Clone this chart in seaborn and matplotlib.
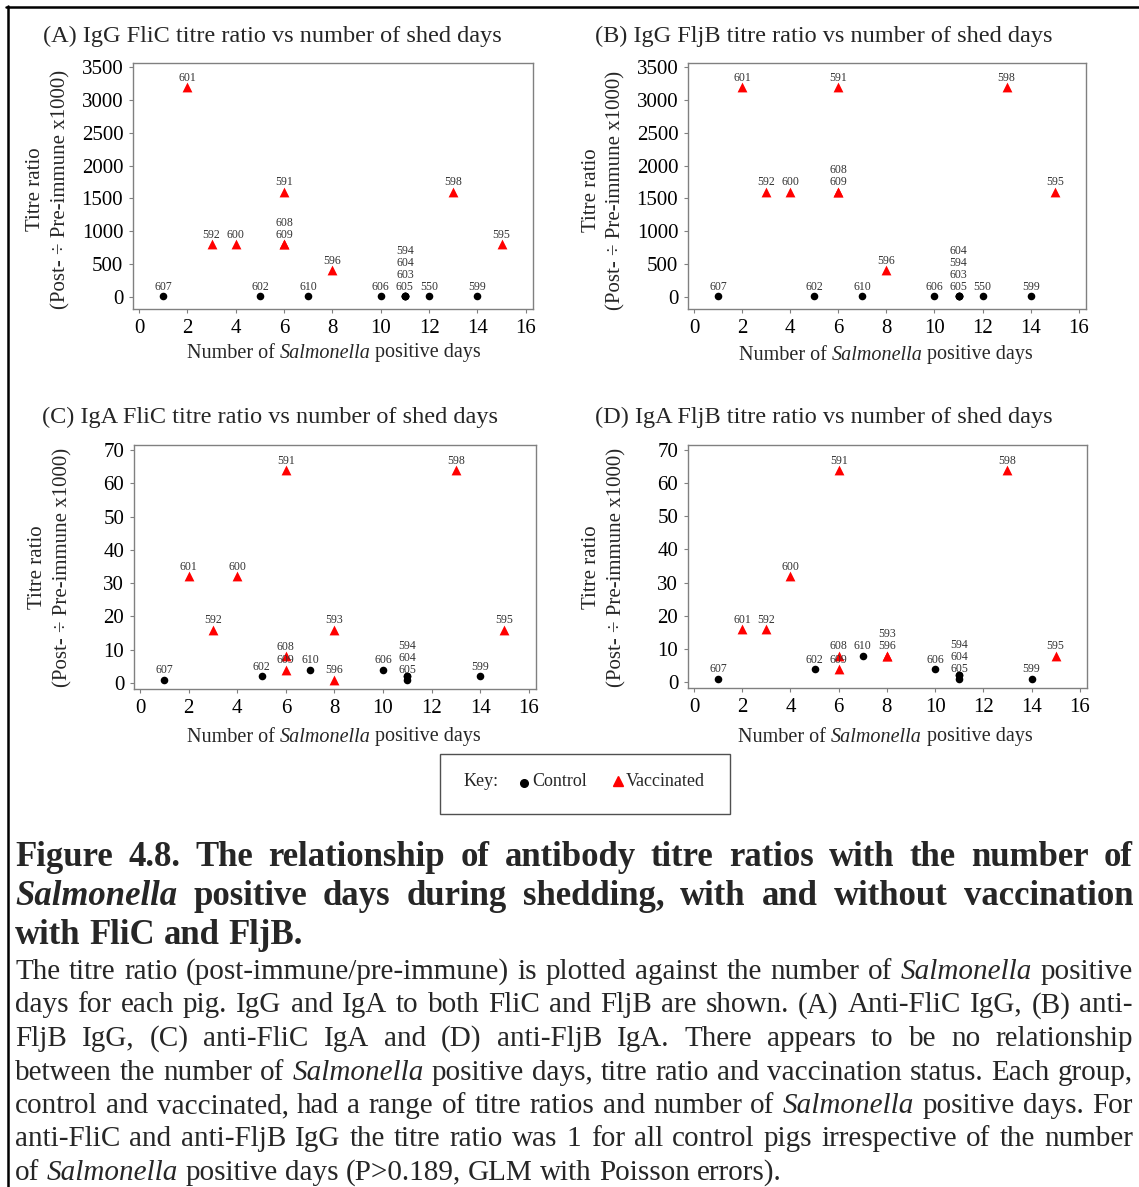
import numpy as np
import pandas as pd
import matplotlib
matplotlib.use("Agg")
import matplotlib.pyplot as plt
import seaborn as sns
from matplotlib.transforms import IdentityTransform
from matplotlib.lines import Line2D
from matplotlib.patches import Rectangle

# ---------------- data ----------------
x_ticks = [0, 2, 4, 6, 8, 10, 12, 14, 16]
igg_yticks = [0, 500, 1000, 1500, 2000, 2500, 3000, 3500]
iga_yticks = [0, 10, 20, 30, 40, 50, 60, 70]

panel_titles = [
    "(A) IgG FliC titre ratio vs number of shed days",
    "(B) IgG FljB titre ratio vs number of shed days",
    "(C) IgA FliC titre ratio vs number of shed days",
    "(D) IgA FljB titre ratio vs number of shed days",
]

# (A) IgG FliC
A_pig = ["607", "601", "592", "600", "602", "591", "608", "609", "610", "596",
         "606", "594", "604", "603", "605", "550", "598", "599", "595"]
A_group = ["Control", "Vaccinated", "Vaccinated", "Vaccinated", "Control", "Vaccinated",
           "Vaccinated", "Vaccinated", "Control", "Vaccinated", "Control", "Control",
           "Control", "Control", "Control", "Control", "Vaccinated", "Control", "Vaccinated"]
A_days = [1, 2, 3, 4, 5, 6, 6, 6, 7, 8, 10, 11, 11, 11, 11, 12, 13, 14, 15]
A_ratio = [1, 3200, 800, 800, 1, 1600, 800, 800, 1, 400, 1, 1, 1, 1, 1, 1, 1600, 1, 800]

# (B) IgG FljB
B_pig = ["607", "601", "592", "600", "602", "591", "608", "609", "610", "596",
         "606", "604", "594", "603", "605", "550", "598", "599", "595"]
B_group = A_group
B_days = [1, 2, 3, 4, 5, 6, 6, 6, 7, 8, 10, 11, 11, 11, 11, 12, 13, 14, 15]
B_ratio = [1, 3200, 1600, 1600, 1, 3200, 1600, 1600, 1, 400, 1, 1, 1, 1, 1, 1, 3200, 1, 1600]

# (C) IgA FliC
C_pig = ["607", "601", "592", "600", "602", "591", "608", "609", "610", "593", "596",
         "606", "594", "604", "605", "598", "599", "595"]
C_group = ["Control", "Vaccinated", "Vaccinated", "Vaccinated", "Control", "Vaccinated",
           "Vaccinated", "Vaccinated", "Control", "Vaccinated", "Vaccinated", "Control",
           "Control", "Control", "Control", "Vaccinated", "Control", "Vaccinated"]
C_days = [1, 2, 3, 4, 5, 6, 6, 6, 7, 8, 8, 10, 11, 11, 11, 13, 14, 15]
C_ratio = [1, 32, 16, 32, 2, 64, 8, 4, 4, 16, 1, 4, 2, 2, 1, 64, 2, 16]

# (D) IgA FljB
D_pig = C_pig
D_group = C_group
D_days = [1, 2, 3, 4, 5, 6, 6, 6, 7, 8, 8, 10, 11, 11, 11, 13, 14, 15]
D_ratio = [1, 16, 16, 32, 4, 64, 8, 4, 8, 8, 8, 4, 2, 2, 1, 64, 1, 8]

x_label_parts = ("Number of ", "Salmonella", " positive days")
y_label_lines = ("Titre ratio", "(Post- \u00f7 Pre-immune x1000)")
key_labels = ("Key:", "Control", "Vaccinated")

heading_lines = [
    "Figure 4.8. The relationship of antibody titre ratios with the number of",
    "*Salmonella* positive days during shedding, with and without vaccination",
    "with FliC and FljB.",
]
body_lines = [
    "The titre ratio (post-immune/pre-immune) is plotted against the number of *Salmonella* positive",
    "days for each pig. IgG and IgA to both FliC and FljB are shown. (A) Anti-FliC IgG, (B) anti-",
    "FljB IgG, (C) anti-FliC IgA and (D) anti-FljB IgA. There appears to be no relationship",
    "between the number of *Salmonella* positive days, titre ratio and vaccination status. Each group,",
    "control and vaccinated, had a range of titre ratios and number of *Salmonella* positive days. For",
    "anti-FliC and anti-FljB IgG the titre ratio was 1 for all control pigs irrespective of the number",
    "of *Salmonella* positive days (P>0.189, GLM with Poisson errors).",
]

# ---------------- style ----------------
W, H = 1139, 1187
SERIF = "Liberation Serif"
SPINE = "#808080"
sns.set_style("white")
plt.rcParams["font.family"] = [SERIF, "DejaVu Serif"]

fig = plt.figure(figsize=(W / 100, H / 100), dpi=100)
fig.patch.set_facecolor("white")
ID = IdentityTransform()
renderer = fig.canvas.get_renderer()


def ftext(x, y_top, s, **kw):
    return fig.text(x, H - y_top, s, transform=ID, **kw)


def panel(rect, pig, group, days, ratio, yticks, ylim, title, title_pos, xlab_pos, ylab_pos):
    l, t, r, b = rect
    ax = fig.add_axes([l / W, 1 - b / H, (r - l) / W, (b - t) / H])
    df = pd.DataFrame(dict(pig=pig, group=group, days=days, ratio=ratio))
    sns.scatterplot(data=df[df.group == "Control"], x="days", y="ratio", color="black",
                    marker="o", s=30, linewidth=0, ax=ax, legend=False, zorder=3)
    sns.scatterplot(data=df[df.group == "Vaccinated"], x="days", y="ratio", color="#ff0000",
                    marker="^", s=50, linewidth=0, ax=ax, legend=False, zorder=3)
    ax.set_xlim(-0.25, 16.3)
    ax.set_ylim(*ylim)
    ax.set_xticks(x_ticks)
    ax.set_yticks(yticks)
    ax.set_xlabel("")
    ax.set_ylabel("")
    for sp in ax.spines.values():
        sp.set_visible(True)
        sp.set_color(SPINE)
        sp.set_linewidth(1.0)
    ax.tick_params(axis="both", direction="out", length=3, width=0.8, color=SPINE,
                   labelsize=15, pad=4, labelcolor="black", bottom=True, left=True)

    # point labels: stack labels of points that sit (almost) on top of each other
    clusters = []
    for i in range(len(df)):
        d, rv, p = df.days.iloc[i], df.ratio.iloc[i], df.pig.iloc[i]
        py = ax.transData.transform((d, rv))[1]
        for c in clusters:
            if c["d"] == d and abs(c["py"] - py) < 8:
                c["labels"].append(p)
                if py < c["py"]:
                    c["py"], c["r"] = py, rv
                break
        else:
            clusters.append(dict(d=d, r=rv, py=py, labels=[p]))
    for c in clusters:
        ax.annotate("\n".join(c["labels"]), (c["d"], c["r"]), xytext=(0, 4.5),
                    textcoords="offset points", ha="center", va="baseline",
                    fontsize=8.5, linespacing=1.0, color="#333333", zorder=4)

    # titles and labels
    ftext(title_pos[0], title_pos[1], title, ha="center", va="baseline", fontsize=17.5)
    xl = ftext(0, xlab_pos[1], x_label_parts[0], ha="left", va="center", fontsize=14.5)
    xm = ftext(0, xlab_pos[1], x_label_parts[1], ha="left", va="center", fontsize=14.5,
               fontstyle="italic")
    xr = ftext(0, xlab_pos[1], x_label_parts[2], ha="left", va="center", fontsize=14.5)
    ws = [tt.get_window_extent(renderer).width for tt in (xl, xm, xr)]
    x0 = xlab_pos[0] - sum(ws) / 2
    xl.set_x(x0)
    xm.set_x(x0 + ws[0])
    xr.set_x(x0 + ws[0] + ws[1])
    ftext(ylab_pos[0], ylab_pos[2], y_label_lines[0], ha="center", va="center",
          rotation=90, fontsize=15)
    ftext(ylab_pos[1], ylab_pos[2], y_label_lines[1], ha="center", va="center",
          rotation=90, fontsize=15)
    return ax


panel((133, 63, 533, 309), A_pig, A_group, A_days, A_ratio, igg_yticks, (-190, 3565),
      panel_titles[0], (272, 42), (334, 353), (36, 61, 189))
panel((688, 63, 1086, 309), B_pig, B_group, B_days, B_ratio, igg_yticks, (-190, 3565),
      panel_titles[1], (824, 42), (886, 355), (591, 616, 190))
panel((134, 445, 536, 689), C_pig, C_group, C_days, C_ratio, iga_yticks, (-1.8, 71.5),
      panel_titles[2], (270, 423), (334, 737), (38, 63, 567))
panel((688, 445, 1087, 688), D_pig, D_group, D_days, D_ratio, iga_yticks, (-1.8, 71.5),
      panel_titles[3], (824, 423), (885, 737), (592, 617, 567))

# ---------------- key box ----------------
fig.add_artist(Rectangle((440, H - 814), 290, 60, transform=ID, fill=False,
                         edgecolor="#505050", linewidth=1.0))
ftext(464, 782, key_labels[0], ha="left", va="center", fontsize=13)
fig.add_artist(Line2D([524], [H - 783], transform=ID, marker="o", color="black",
                      markersize=5.5, linestyle="none"))
ftext(532, 782, key_labels[1], ha="left", va="center", fontsize=13)
fig.add_artist(Line2D([618], [H - 781], transform=ID, marker="^", color="#ff0000",
                      markersize=7, linestyle="none"))
ftext(626, 782, key_labels[2], ha="left", va="center", fontsize=13)

# ---------------- page frame ----------------
fig.add_artist(Line2D([6, W], [H - 7, H - 7], transform=ID, color="black", linewidth=1.8))
fig.add_artist(Line2D([7.5, 7.5], [H - 6, 0], transform=ID, color="black", linewidth=1.8))

# ---------------- caption (justified) ----------------
X0, X1 = 15, 1133


def draw_line(line, y_base, size, bold, justify):
    items = []
    for w in line.split(" "):
        italic = w.startswith("*")
        txt = w.replace("*", "")
        items.append(ftext(0, y_base, txt, ha="left", va="baseline", fontsize=size,
                           fontweight="bold" if bold else "normal",
                           fontstyle="italic" if italic else "normal"))
    widths = [tt.get_window_extent(renderer).width for tt in items]
    if justify and len(items) > 1:
        gap = (X1 - X0 - sum(widths)) / (len(items) - 1)
    else:
        a = ftext(0, -100, "a a", fontsize=size, fontweight="bold" if bold else "normal")
        b = ftext(0, -100, "aa", fontsize=size, fontweight="bold" if bold else "normal")
        gap = a.get_window_extent(renderer).width - b.get_window_extent(renderer).width
        a.remove()
        b.remove()
    x = X0
    for tt, w in zip(items, widths):
        tt.set_x(x)
        x += w + gap


for i, ln in enumerate(heading_lines):
    draw_line(ln, 866 + 39 * i, 25, True, i < len(heading_lines) - 1)
for i, ln in enumerate(body_lines):
    draw_line(ln, 979 + 33.5 * i, 21, False, i < len(body_lines) - 1)

fig.savefig("out.png", dpi=100, facecolor="white")
